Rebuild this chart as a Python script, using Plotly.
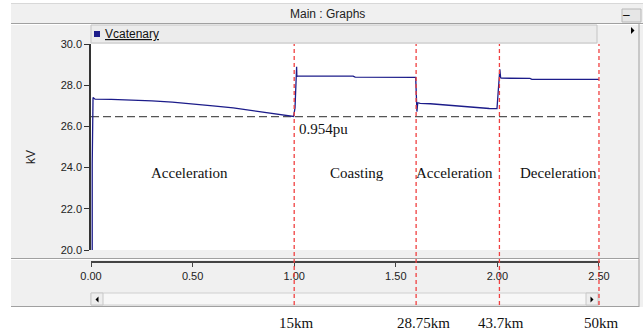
import plotly.graph_objects as go

# Catenary voltage along the run (time axis in h, voltage in kV)
t_run = [0.006, 0.006, 0.010, 0.020, 0.10, 0.20, 0.30, 0.40, 0.50, 0.60, 0.70, 0.80, 0.90, 0.997,
         1.004, 1.006, 1.012, 1.013, 1.016, 1.29, 1.30, 1.598,
         1.601, 1.604, 1.608, 1.62, 1.67, 1.77, 1.87, 1.96, 1.998,
         2.002, 2.006, 2.012, 2.016, 2.02, 2.16, 2.17, 2.5]
v_catenary = [20.0, 24.2, 27.4, 27.32, 27.31, 27.28, 27.24, 27.18, 27.10, 27.00, 26.90, 26.76, 26.63, 26.48,
              26.9, 27.8, 28.9, 28.42, 28.44, 28.44, 28.39, 28.38,
              27.6, 26.72, 27.15, 27.12, 27.10, 27.01, 26.93, 26.87, 26.86,
              27.5, 28.2, 28.77, 28.36, 28.34, 28.33, 28.28, 28.28]

# Minimum voltage limit
nominal_kv = 27.75
pu_limit = 0.954
limit_kv = nominal_kv * pu_limit

# Section boundaries and distances
boundaries = [1.0, 1.6, 2.01, 2.5]
km_labels = ["15km", "28.75km", "43.7km", "50km"]
km_shift = [2, 7, 2, 3]

# Operating phases
phase_names = ["Acceleration", "Coasting", "Acceleration", "Deceleration"]
phase_x = [0.487, 1.31, 1.79, 2.30]
phase_y = 23.75

x_ticks = [0.0, 0.5, 1.0, 1.5, 2.0, 2.5]
y_ticks = [20, 22, 24, 26, 28, 30]

W, H = 643, 335
L, R, T, B = 91, 43, 44, 73
PW, PH = W - L - R, H - T - B


def px(x):
    return (x - L) / PW


def py(y):
    return (H - B - y) / PH


SANS = "Liberation Sans, Arial, sans-serif"
SERIF = "Liberation Serif, Times New Roman, serif"
PANEL = "#f0f0f0"
EDGE = "#a0a0a0"

fig = go.Figure()

fig.add_trace(go.Scatter(
    x=[0, 2.48], y=[limit_kv, limit_kv], mode="lines",
    line=dict(color="#555555", width=1.4, dash="8px,4px"),
    hoverinfo="skip", showlegend=False))

fig.add_trace(go.Scatter(
    x=t_run, y=v_catenary, mode="lines", name="Vcatenary",
    line=dict(color="#1c1c8a", width=1.3), showlegend=False))

shapes = []


def rect(x0, y0, x1, y1, fill, line=None, lw=1):
    shapes.append(dict(type="rect", xref="paper", yref="paper", layer="below",
                       x0=px(x0), x1=px(x1), y0=py(y1), y1=py(y0),
                       fillcolor=fill,
                       line=dict(color=line or fill, width=lw if line else 0)))


def hline(x0, x1, y, color, w=1):
    shapes.append(dict(type="line", xref="paper", yref="paper", layer="below",
                       x0=px(x0), x1=px(x1), y0=py(y), y1=py(y),
                       line=dict(color=color, width=w)))


def vline(x, y0, y1, color, w=1):
    shapes.append(dict(type="line", xref="paper", yref="paper", layer="below",
                       x0=px(x), x1=px(x), y0=py(y0), y1=py(y1),
                       line=dict(color=color, width=w)))


def tri(pts, color="#000000"):
    d = "M " + " L ".join(f"{px(a)},{py(b)}" for a, b in pts) + " Z"
    shapes.append(dict(type="path", xref="paper", yref="paper", layer="above",
                       path=d, fillcolor=color, line=dict(color=color, width=0)))


# window panel
rect(11, 3, 643, 307, PANEL)
# title bar
hline(11, 643, 3.5, "#d8d8d8")
hline(11, 643, 23.5, EDGE)
hline(11, 643, 24.5, "#ffffff")
rect(622, 9, 641, 22, "#e6e6e6", "#b8b8b8")
# legend strip
rect(91, 25, 597, 43, "#ececec", "#c4c4c4")
# plot area
rect(91, 44, 600, 250, "#ffffff")
# axis panel separator and frame
hline(11, 639, 258.5, EDGE, 1.2)
hline(11, 639, 259.5, "#ffffff")
vline(639, 24, 307, EDGE)
hline(11, 639, 306.5, EDGE, 1.2)
# scroll bar
rect(91, 293, 599, 305, "#f7f7f7", "#d0d0d0")
rect(91, 293, 103, 305, "#eeeeee", "#c8c8c8")
rect(586, 293, 598, 305, "#eeeeee", "#c8c8c8")
tri([(98.5, 296.5), (98.5, 302.5), (95.5, 299.5)])
tri([(590.5, 296.5), (590.5, 302.5), (593.5, 299.5)])
tri([(631, 27), (631, 34), (634.5, 30.5)])

# section boundaries
for b in boundaries:
    shapes.append(dict(type="line", xref="x", yref="paper", layer="above",
                       x0=b, x1=b, y0=py(305), y1=py(44),
                       line=dict(color="#f04040", width=1.3, dash="4px,3px")))

annotations = [
    dict(text="Main : Graphs", xref="paper", yref="paper", x=px(327), y=py(14),
         yanchor="middle", showarrow=False,
         font=dict(family=SANS, size=12, color="#222222")),
    dict(text="–", xref="paper", yref="paper", x=px(632), y=py(15),
         yanchor="middle", showarrow=False,
         font=dict(family=SANS, size=12, color="#000000")),
    dict(text="<u>Vcatenary</u>", xref="paper", yref="paper", x=px(103), y=py(34),
         xanchor="left", yanchor="middle", showarrow=False,
         font=dict(family=SANS, size=12, color="#111111")),
    dict(text="kV", xref="paper", yref="paper", x=px(22), y=py(157), textangle=-90,
         yanchor="middle", showarrow=False,
         font=dict(family=SANS, size=12, color="#222222")),
    dict(text=f"{pu_limit}pu", xref="x", yref="y", x=1.014, y=25.85, xanchor="left",
         yanchor="middle", showarrow=False,
         font=dict(family=SERIF, size=15, color="#111111")),
]
rect(94, 31, 100, 37, "#1c1c8a")

for name, xx in zip(phase_names, phase_x):
    annotations.append(dict(text=name, xref="x", yref="y", x=xx, y=phase_y,
                            yanchor="middle", showarrow=False,
                            font=dict(family=SERIF, size=15, color="#111111")))

for b, lab, s in zip(boundaries, km_labels, km_shift):
    annotations.append(dict(text=lab, xref="x", yref="paper", x=b, y=py(323),
                            xshift=s, yanchor="middle", showarrow=False,
                            font=dict(family=SERIF, size=15, color="#111111")))

fig.update_layout(
    width=W, height=H,
    margin=dict(l=L, r=R, t=T, b=B, pad=0),
    paper_bgcolor="#ffffff", plot_bgcolor="rgba(0,0,0,0)",
    shapes=shapes, annotations=annotations, showlegend=False,
    xaxis=dict(range=[0, 2.505], tickvals=x_ticks,
               ticktext=[f"{v:.2f}" for v in x_ticks],
               anchor="free", position=0, showgrid=False, zeroline=False,
               showline=True, linecolor="#444444", linewidth=1.5,
               ticks="outside", ticklen=4, tickcolor="#444444",
               tickfont=dict(family=SANS, size=11, color="#222222")),
    yaxis=dict(range=[20, 30], domain=[(262 - 250) / PH, 1], tickvals=y_ticks,
               ticktext=[f"{v:.1f}" for v in y_ticks],
               showgrid=False, zeroline=False,
               showline=True, linecolor="#333333", linewidth=1.5,
               ticks="outside", ticklen=5, tickcolor="#333333",
               tickfont=dict(family=SANS, size=11, color="#222222")),
)

fig.write_html("out.html")
